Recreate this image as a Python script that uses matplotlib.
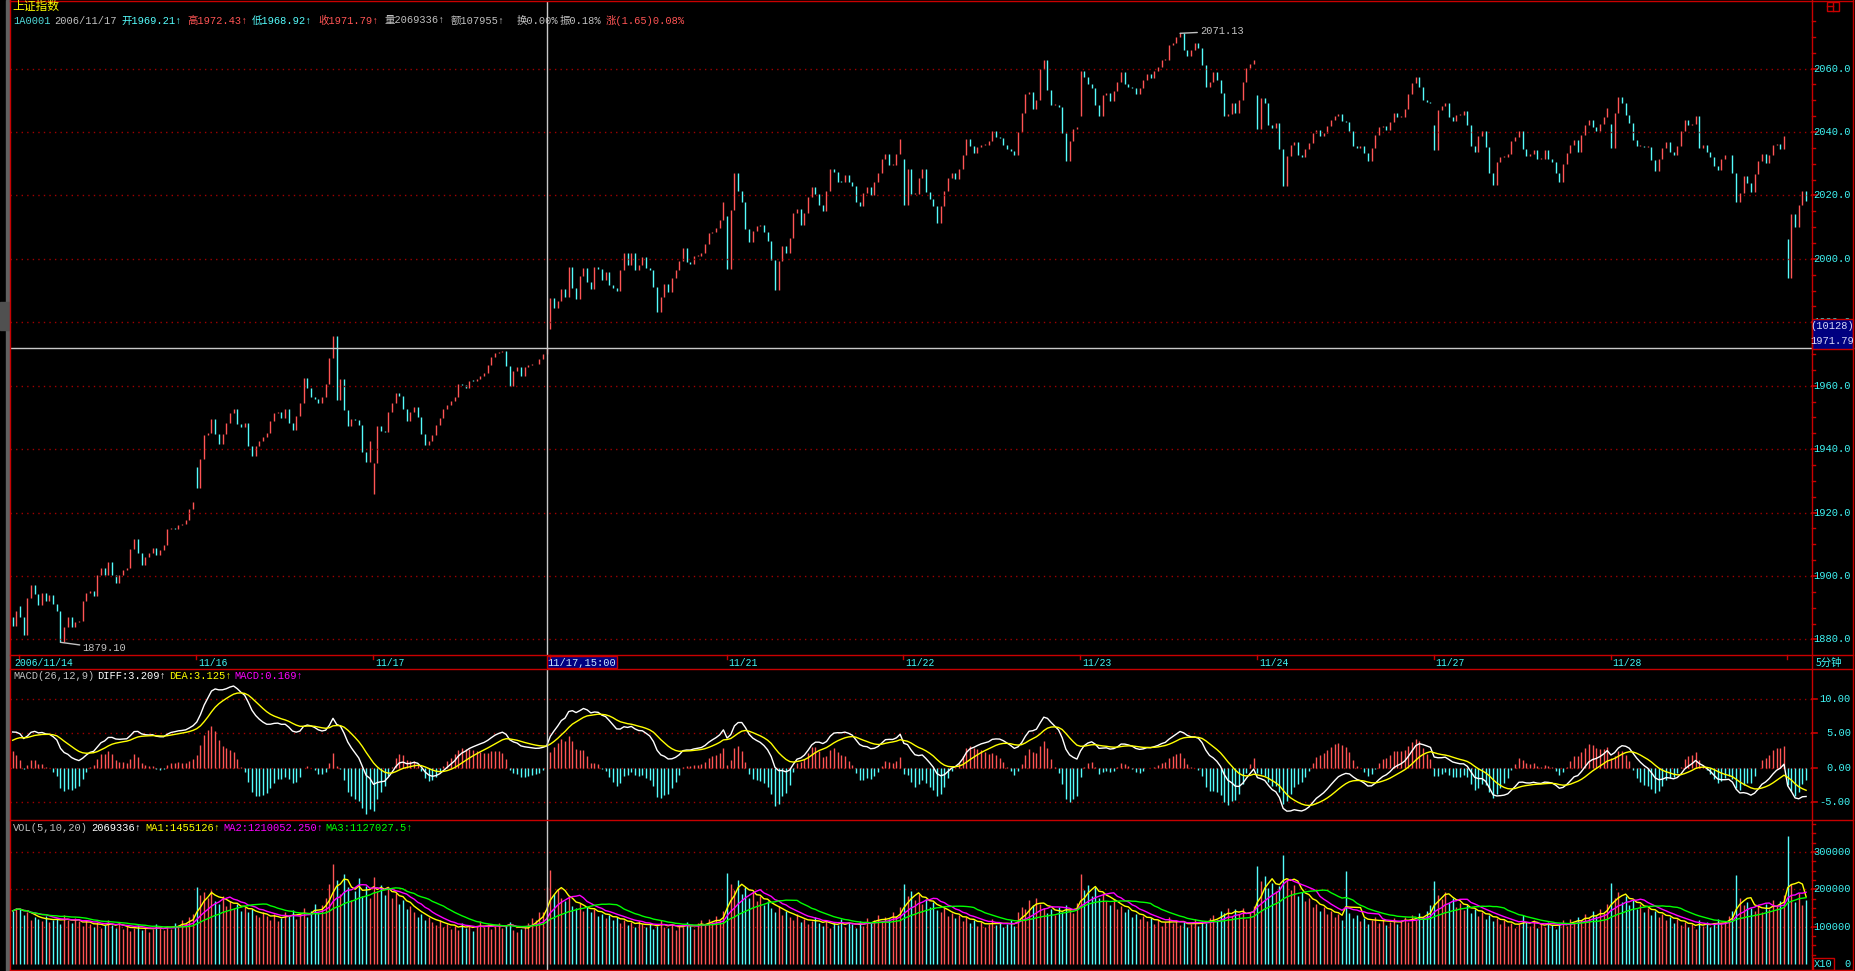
import numpy as np
import pandas as pd
import matplotlib
matplotlib.use('Agg')
import matplotlib.pyplot as plt
from matplotlib import transforms
from matplotlib.lines import Line2D
from matplotlib.patches import Rectangle

W, H = 1856, 971

# 5-minute closes, 2006/11/14 14:55 .. 2006/11/29 09:55
closes = [
    1884.4, 1888.9, 1887.0, 1881.3, 1893.2, 1897.2, 1894.3, 1890.9, 1894.5, 1892.2, 1894.1, 1891.1,
    1889.1, 1879.1, 1883.9, 1887.0, 1883.9, 1885.4, 1885.9, 1892.0, 1894.8, 1895.3, 1893.8, 1900.3,
    1902.6, 1900.3, 1904.4, 1900.3, 1897.9, 1900.3, 1901.8, 1902.4, 1908.6, 1911.8, 1907.3, 1903.4,
    1905.9, 1907.3, 1908.9, 1906.6, 1908.3, 1909.7, 1914.9, 1915.3, 1914.8, 1916.1, 1916.4, 1917.7,
    1921.1, 1923.2, 1927.6, 1936.8, 1944.5, 1945.0, 1949.5, 1944.8, 1941.7, 1944.8, 1948.2, 1951.4,
    1952.6, 1947.9, 1946.9, 1948.2, 1941.1, 1937.8, 1941.1, 1942.7, 1943.8, 1945.1, 1949.0, 1951.4,
    1951.6, 1949.9, 1952.8, 1948.2, 1946.1, 1950.5, 1954.7, 1962.3, 1959.2, 1956.6, 1955.7, 1954.5,
    1956.6, 1960.4, 1968.8, 1975.7, 1955.5, 1962.2, 1952.4, 1947.4, 1949.5, 1949.3, 1947.6, 1939.1,
    1935.9, 1942.7, 1935.7, 1947.2, 1945.8, 1945.3, 1951.6, 1954.5, 1957.6, 1956.8, 1952.8, 1948.9,
    1951.8, 1953.4, 1950.3, 1944.8, 1941.4, 1942.7, 1944.5, 1947.6, 1949.7, 1952.8, 1953.9, 1955.2,
    1956.6, 1960.7, 1960.1, 1959.4, 1961.5, 1961.4, 1962.2, 1963.2, 1964.1, 1966.4, 1969.0, 1970.3,
    1970.5, 1971.0, 1966.1, 1959.9, 1964.5, 1965.9, 1963.0, 1965.8, 1966.6, 1966.7, 1967.0, 1968.4,
    1970.14, 1971.79,
    1987.8, 1984.5, 1986.6, 1990.5, 1988.1, 1997.5, 1990.9, 1987.4, 1994.7, 1997.2, 1992.8, 1990.5,
    1997.5, 1996.8, 1993.3, 1995.9, 1991.8, 1990.7, 1989.9, 1996.5, 2001.7, 1998.0, 2001.7, 1996.5,
    1998.0, 2000.6, 1997.2, 1996.5, 1991.1, 1983.4, 1988.1, 1992.0, 1989.7, 1993.9, 1996.5, 1999.3,
    2003.4, 1999.1, 1998.5, 2000.9, 2000.9, 2001.7, 2004.8, 2008.2, 2008.6, 2009.7, 2012.3, 2018.0,
    1996.8, 2015.4, 2027.0, 2021.5, 2017.8, 2009.3, 2005.3, 2008.7, 2010.5, 2010.8, 2008.4, 2005.5,
    1999.6, 1990.2, 1999.3, 2004.1, 2001.7, 2006.7, 2014.5, 2015.7, 2010.8, 2014.5, 2019.4, 2022.7,
    2020.4, 2017.1, 2015.2, 2021.3, 2028.5, 2027.4, 2024.4, 2024.3, 2026.5, 2024.1, 2023.0, 2018.0,
    2016.6, 2020.7, 2022.8, 2020.1, 2024.3, 2027.2, 2031.4, 2033.2, 2029.5, 2029.5, 2033.2, 2037.9,
    2017.1, 2028.2, 2020.4, 2020.4, 2025.6, 2028.2, 2021.1, 2018.9, 2016.6, 2011.4, 2016.6, 2021.3,
    2025.6, 2027.0, 2025.1, 2028.4, 2032.6, 2037.9, 2035.7, 2033.4, 2035.2, 2036.0, 2036.0, 2037.1,
    2040.4, 2038.4, 2038.1, 2036.0, 2034.7, 2034.0, 2032.6, 2039.9, 2045.9, 2052.0, 2052.7, 2047.2,
    2050.1, 2060.0, 2062.6, 2053.2, 2048.5, 2048.5, 2048.0, 2039.7, 2030.8, 2037.1, 2040.9, 2041.6,
    2059.3, 2057.2, 2055.1, 2054.0, 2048.5, 2044.9, 2051.7, 2052.2, 2049.9, 2053.0, 2055.8, 2059.0,
    2055.3, 2054.3, 2053.8, 2052.0, 2053.8, 2056.4, 2058.4, 2056.9, 2059.3, 2060.5, 2062.6, 2062.6,
    2067.3, 2068.0, 2069.9, 2071.13,
    2065.9, 2063.9, 2065.9, 2068.0, 2066.6, 2061.0, 2054.3, 2055.8, 2059.0, 2056.4, 2052.2, 2044.9,
    2045.7, 2049.3, 2046.1, 2050.1, 2055.8, 2060.2, 2061.4, 2062.8,
    2040.9, 2050.6, 2049.1, 2042.3, 2041.2, 2042.8, 2034.7, 2023.0, 2032.4, 2035.8, 2036.9, 2032.9,
    2032.1, 2034.5, 2036.4, 2039.7, 2040.7, 2038.9, 2039.7, 2042.0, 2043.9, 2044.9, 2045.7, 2043.6,
    2043.3, 2040.2, 2035.5, 2035.0, 2035.7, 2033.4, 2030.8, 2035.0, 2039.2, 2041.6, 2041.8, 2040.7,
    2043.3, 2046.1, 2044.7, 2044.7, 2047.2, 2052.0, 2055.5, 2057.4, 2054.3, 2050.1, 2049.6, 2049.3,
    2034.3, 2046.8, 2048.2, 2049.3, 2044.6, 2043.6, 2045.4, 2045.4, 2046.5, 2042.3, 2035.7, 2033.6,
    2038.9, 2040.4, 2035.2, 2027.0, 2023.3, 2030.6, 2032.1, 2032.1, 2033.2, 2037.3, 2038.4, 2040.4,
    2034.5, 2032.4, 2033.1, 2034.3, 2031.4, 2031.6, 2034.3, 2031.6, 2030.5, 2027.2, 2024.3, 2029.8,
    2033.4, 2035.8, 2037.4, 2033.8, 2039.2, 2042.3, 2043.9, 2041.6, 2040.4, 2042.5, 2044.7, 2047.5,
    2035.0, 2045.9, 2051.1, 2049.3, 2045.4, 2043.0, 2037.4, 2035.5, 2035.5, 2035.3, 2035.3, 2031.1,
    2027.7, 2031.6, 2035.0, 2036.9, 2033.6, 2032.6, 2035.7, 2040.2, 2043.9, 2042.3, 2042.6, 2045.1,
    2035.0, 2036.0, 2033.6, 2032.2, 2029.3, 2028.0, 2031.6, 2032.6, 2032.9, 2027.0, 2018.0, 2020.7,
    2026.1, 2023.8, 2021.1, 2026.7, 2030.8, 2033.2, 2030.3, 2032.9, 2036.0, 2036.3, 2034.7, 2038.9,
    1994.1, 2014.2, 2010.0, 2017.0, 2021.3, 2018.3,
]

first_open = 1887.0
day_starts = [2, 50, 98, 146, 194, 242, 290, 338, 386, 434, 482]
day_opens = [1890.6, 1934.4, 1925.8, 1978.0, 2013.6, 2031.4, 2045.2, 2051.7, 2042.3, 2042.6, 2006.4]
first_date = '2006/11/14'
# 11/20 sits under the crosshair time box, 11/29 has no room
day_labels = ['', '11/16', '11/17', '', '11/21', '11/22', '11/23', '11/24', '11/27', '11/28', '']

# volume per bar, in units of 10,000 (axis shows volume / 10)
vol_1114 = [142, 151]
vol_1115 = [148, 132, 140, 118, 126, 121, 115, 128, 112, 119, 124, 108, 131, 117, 109, 122,
            114, 101, 118, 107, 99, 112, 96, 104, 118, 105, 97, 110, 93, 101, 88, 96,
            104, 91, 99, 86, 94, 108, 97, 90, 102, 95, 111, 104, 118, 109, 126, 135]
vol_1116 = [205, 186, 192, 176, 198, 170, 162, 181, 155, 168, 149, 160, 142, 153, 138, 146,
            131, 125, 140, 128, 119, 133, 116, 124, 138, 129, 145, 120, 134, 151, 127, 143,
            162, 139, 158, 176, 214, 268, 226, 188, 241, 205, 172, 196, 231, 183, 209, 178]
vol_1117 = [232, 196, 211, 184, 203, 176, 190, 162, 171, 148, 155, 139, 126, 134, 118, 125,
            112, 104, 119, 98, 108, 95, 101, 92, 110, 97, 103, 89, 102, 115, 98, 106,
            95, 103, 110, 97, 105, 113, 92, 86, 95, 100, 109.5, 124, 119, 138, 139.6, 206.9336]
vol_1120 = [252, 187, 201, 176, 168, 182, 155, 149, 163, 141, 152, 138, 146, 129, 135, 122,
            131, 117, 126, 110, 118, 104, 112, 99, 115, 106, 98, 111, 95, 103, 118, 100,
            96, 108, 92, 105, 99, 113, 102, 94, 109, 117, 104, 121, 112, 128, 119, 142]
vol_1121 = [243, 214, 198, 226, 187, 205, 176, 192, 168, 181, 157, 170, 149, 138, 155, 131,
            142, 125, 119, 133, 112, 121, 106, 115, 126, 109, 102, 118, 97, 110, 104, 121,
            99, 113, 107, 96, 116, 102, 124, 109, 118, 131, 113, 127, 120, 138, 129, 152]
vol_1122 = [214, 183, 196, 172, 188, 161, 175, 152, 166, 144, 139, 151, 128, 137, 122, 130,
            116, 125, 109, 118, 103, 112, 98, 107, 121, 104, 113, 99, 108, 117, 102, 138,
            152, 146, 171, 158, 176, 162, 149, 137, 146, 131, 152, 139, 158, 144, 136, 163]
vol_1123 = [241, 197, 212, 183, 205, 176, 191, 168, 159, 174, 147, 156, 139, 148, 127, 135,
            121, 129, 114, 123, 108, 117, 101, 112, 125, 109, 118, 104, 113, 98, 107, 121,
            103, 116, 109, 124, 131, 118, 142, 137, 151, 128, 146, 133, 149, 121, 139, 156]
vol_1124 = [263, 221, 236, 204, 218, 196, 209, 291, 228, 197, 211, 183, 192, 168, 176, 154,
            161, 143, 152, 135, 141, 126, 133, 118, 248, 137, 124, 131, 116, 122, 108, 117,
            126, 111, 119, 104, 113, 122, 107, 118, 126, 112, 131, 119, 137, 125, 142, 158]
vol_1127 = [221, 186, 174, 193, 165, 178, 152, 163, 144, 157, 136, 148, 129, 139, 121, 131,
            114, 124, 108, 117, 102, 111, 97, 106, 131, 112, 101, 118, 96, 107, 99, 113,
            104, 95, 109, 117, 102, 121, 111, 127, 119, 134, 122, 141, 129, 147, 136, 162]
vol_1128 = [216, 178, 192, 167, 183, 158, 171, 147, 162, 139, 151, 132, 143, 125, 134, 118,
            127, 111, 120, 104, 113, 98, 107, 95, 118, 103, 112, 99, 108, 121, 106, 115,
            129, 141, 238, 176, 158, 167, 149, 143, 156, 138, 161, 147, 172, 155, 169, 184]
vol_1129 = [342, 214, 167, 189, 158, 172]
volume = (vol_1114 + vol_1115 + vol_1116 + vol_1117 + vol_1120 + vol_1121 + vol_1122
          + vol_1123 + vol_1124 + vol_1127 + vol_1128 + vol_1129)

price_ticks = [1880, 1900, 1920, 1940, 1960, 1980, 2000, 2020, 2040, 2060]
macd_ticks = [10, 5, 0, -5]
vol_ticks = [100000, 200000, 300000]
diff_start, dea_start = 5.2, 4.0
cross_bar = 145
cross_time = '11/17,15:00'
cross_count = '(10128)'
high_text, low_text = '2071.13', '1879.10'

RED = '#FF5454'
CYAN = '#54FCFC'
FRAME = '#C80000'
GRID = '#A00000'
LBL = '#40F4F4'
GRAY = '#C0C0C0'
MONO = ['Liberation Mono', 'DejaVu Sans Mono', 'Noto Sans CJK SC']

closes = np.array(closes)
n = len(closes)
idx = np.arange(n)
opens = np.r_[first_open, closes[:-1]]
for s, o in zip(day_starts, day_opens):
    opens[s] = o
up = closes >= opens
bar_colors = np.where(up, RED, CYAN)

fig = plt.figure(figsize=(W / 100, H / 100), dpi=100, facecolor='black')


def px_axes(x0, y0, x1, y1):
    ax = fig.add_axes([x0 / W, 1 - y1 / H, (x1 - x0) / W, (y1 - y0) / H])
    ax.set_axis_off()
    ax.set_xlim(-0.71, 488.6)
    return ax


def fline(x0, y0, x1, y1, color=FRAME, lw=1.0):
    fig.add_artist(Line2D([x0 / W, x1 / W], [1 - y0 / H, 1 - y1 / H],
                          transform=fig.transFigure, color=color, lw=lw))


def ftext(x, y, s, color, size=7.5, ha='left', family=MONO):
    fig.text(x / W, 1 - y / H, s, color=color, fontsize=size, ha=ha, va='center', family=family)


def right_labels(ax, ticks, fmt, minor=None):
    tr = transforms.blended_transform_factory(fig.transFigure, ax.transData)
    for v in ticks:
        ax.axhline(v, color=GRID, lw=1.0, ls=(0, (1, 3)))
        ax.plot([1812 / W, 1817 / W], [v, v], color=FRAME, lw=1.2, transform=tr, clip_on=False)
        ax.text(1851 / W, v, fmt.format(v), transform=tr, ha='right', va='center',
                color=LBL, fontsize=7.5, family=MONO)
    if minor is not None:
        for v in minor:
            ax.plot([1812 / W, 1815 / W], [v, v], color=FRAME, lw=1.0, transform=tr, clip_on=False)


# ---------- price panel ----------
ax_p = px_axes(10, 2, 1812, 655)
ax_p.set_ylim(1875.1, 2081.0)
lo = np.minimum(opens, closes)
hi = np.maximum(opens, closes)
hi = np.where(hi - lo < 0.3, lo + 0.3, hi)
ax_p.vlines(idx, lo, hi, colors=bar_colors, lw=1.0)
minor_p = [v for v in np.arange(1880, 2080, 5) if v % 20 != 0]
right_labels(ax_p, price_ticks, '{:.1f}', minor_p)

imax, imin = int(np.argmax(closes)), int(np.argmin(closes))
ax_p.annotate(high_text, xy=(imax, closes[imax]), xytext=(20, 2), textcoords='offset pixels',
              color=GRAY, fontsize=7.5, family=MONO, va='center',
              arrowprops=dict(arrowstyle='-', color=GRAY, lw=1, shrinkA=0, shrinkB=0))
ax_p.annotate(low_text, xy=(imin, closes[imin]), xytext=(22, -6), textcoords='offset pixels',
              color=GRAY, fontsize=7.5, family=MONO, va='center',
              arrowprops=dict(arrowstyle='-', color=GRAY, lw=1, shrinkA=0, shrinkB=0))

# ---------- MACD panel ----------
ax_m = px_axes(10, 669, 1812, 820)
ax_m.set_ylim(-7.55, 14.33)
ema12, ema26, dea = closes[0], closes[0] - diff_start, dea_start
diff_l, dea_l = [], []
for i, c in enumerate(closes):
    if i > 0:
        ema12 += (c - ema12) * 2 / 13
        ema26 += (c - ema26) * 2 / 27
    d = ema12 - ema26
    if i > 0:
        dea += (d - dea) * 2 / 10
    diff_l.append(d)
    dea_l.append(dea)
diff_l, dea_l = np.array(diff_l), np.array(dea_l)
hist = 2 * (diff_l - dea_l)
right_labels(ax_m, macd_ticks, '{:.2f}')
ax_m.vlines(idx, 0, hist, colors=np.where(hist >= 0, RED, CYAN), lw=1.0)
ax_m.plot(idx, diff_l, color='white', lw=1.0)
ax_m.plot(idx, dea_l, color='#FFFF00', lw=1.0)

# ---------- VOL panel ----------
ax_v = px_axes(10, 821, 1812, 971)
ax_v.set_ylim(-18750, 383000)
minor_v = [v for v in np.arange(25000, 380000, 25000) if v % 100000 != 0]
right_labels(ax_v, vol_ticks, '{:d}', minor_v)
vol = np.array(volume) * 1000.0
ax_v.vlines(idx, 0, vol, colors=bar_colors, lw=1.0)
vs = pd.Series(vol)
ax_v.plot(idx, vs.rolling(5, min_periods=1).mean(), color='#FFFF00', lw=1.0)
ax_v.plot(idx, vs.rolling(10, min_periods=1).mean(), color='#FF00FF', lw=1.0)
ax_v.plot(idx, vs.rolling(20, min_periods=1).mean(), color='#00FF00', lw=1.0)

# ---------- crosshair ----------
for ax in (ax_p, ax_m, ax_v):
    ax.axvline(cross_bar, color='#C8C8C8', lw=1.0)
trp = transforms.blended_transform_factory(fig.transFigure, ax_p.transData)
ax_p.plot([10 / W, 1853 / W], [closes[cross_bar]] * 2, color='#C8C8C8', lw=1.0,
          transform=trp, clip_on=False)

# ---------- frame ----------
fig.add_artist(Rectangle((6 / W, 0), 3 / W, 1, transform=fig.transFigure, color='#606060'))
fig.add_artist(Rectangle((0, 1 - 330 / H), 9 / W, 28 / H, transform=fig.transFigure, color='#505050'))
for y in (1, 655, 669, 820, 970):
    fline(10, y, 1853, y)
for x in (10, 1812, 1853):
    fline(x, 0, x, 971)

# date strip
x_of = lambda i: 12.6 + 3.683 * i
for s, lab in zip(day_starts, day_labels):
    fline(x_of(s) - 0.5, 655, x_of(s) - 0.5, 659)
    if lab:
        ftext(x_of(s) + 1.5, 662.5, lab, LBL, size=7)
ftext(14, 662.5, first_date, LBL, size=7)
fig.add_artist(Rectangle((x_of(cross_bar) / W, 1 - 668 / H), 70 / W, 12 / H,
                         transform=fig.transFigure, facecolor='#000080', edgecolor=FRAME, lw=1))
ftext(x_of(cross_bar) + 1, 662.5, cross_time, '#C8E8FF', size=7.5)
ftext(1816, 662.5, '5分钟', LBL, size=7.5, family=['Noto Sans CJK SC', 'DejaVu Sans'])

# price box on the right axis
fig.add_artist(Rectangle((1812 / W, 1 - 349 / H), 41 / W, 30 / H,
                         transform=fig.transFigure, facecolor='#000080', edgecolor=FRAME, lw=1))
ftext(1832.5, 326, cross_count, '#D8D8F8', ha='center')
ftext(1832.5, 341, f'{closes[cross_bar]:.2f}', '#D8D8F8', ha='center')

# X10 box and zero label
fig.add_artist(Rectangle((1813 / W, 1 - 970 / H), 21 / W, 12 / H,
                         transform=fig.transFigure, facecolor='none', edgecolor=FRAME, lw=1))
ftext(1823.5, 964, 'X10', LBL, ha='center')
ftext(1851, 964, '0', LBL, ha='right')

# small window icon
fig.add_artist(Rectangle((1827 / W, 1 - 11 / H), 12 / W, 9 / H,
                         transform=fig.transFigure, facecolor='none', edgecolor=FRAME, lw=1))
fline(1833, 2, 1833, 11)
fline(1827, 6.5, 1833, 6.5)

# ---------- header texts ----------
ftext(12, 7, '上证指数', '#FFFF00', size=8.5)
header = [(13, '1A0001', '#50D8D8'), (54, '2006/11/17', GRAY), (121, '开1969.21↑', CYAN),
          (187, '高1972.43↑', RED), (252, '低1968.92↑', CYAN), (318, '收1971.79↑', RED),
          (385, '量2069336↑', GRAY), (451, '额107955↑', GRAY), (517, '换0.00%', GRAY),
          (560, '振0.18%', GRAY), (606, '涨(1.65)0.08%', RED)]
for x, s, c in header:
    ftext(x, 20.5, s, c, size=7.5)

macd_head = [(13, 'MACD(26,12,9)', GRAY), (97, 'DIFF:3.209↑', 'white'),
             (169, 'DEA:3.125↑', '#FFFF00'), (234, 'MACD:0.169↑', '#FF00FF')]
for x, s, c in macd_head:
    ftext(x, 676, s, c)

vol_head = [(13, 'VOL(5,10,20)', GRAY), (91, '2069336↑', 'white'), (145, 'MA1:1455126↑', '#FFFF00'),
            (223, 'MA2:1210052.250↑', '#FF00FF'), (325, 'MA3:1127027.5↑', '#00FF00')]
for x, s, c in vol_head:
    ftext(x, 828, s, c)

fig.savefig('out.png', dpi=100, facecolor='black')
